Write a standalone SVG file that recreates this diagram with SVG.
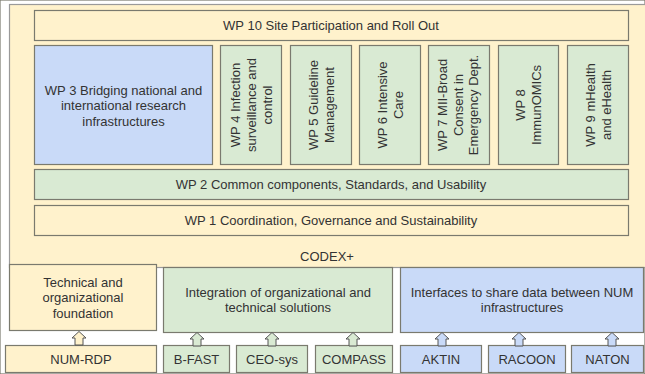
<svg xmlns="http://www.w3.org/2000/svg" xmlns:xlink="http://www.w3.org/1999/xlink" width="645" height="374" viewBox="0 0 645 374">
<style>
text{font-family:"Liberation Sans",Arial,sans-serif;font-size:13px;fill:#333;text-anchor:middle}
.y{fill:#fff2cc}.g{fill:#d9ead3}.b{fill:#c9daf8}
rect{stroke:#7a7a6e;stroke-width:1.2}
.outer{stroke:#9a9a9a;stroke-width:1.2}
.arr{stroke:#555;stroke-width:1}
</style>
<defs>
<path id="up" d="M0,0 L7,6.5 L4,6.5 L4,13.5 L-4,13.5 L-4,6.5 L-7,6.5 Z"/>
</defs>
<rect width="645" height="374" fill="#fff" stroke="none"/>
<g id="codex">
<rect class="y outer" x="9.5" y="4.5" width="640" height="263"/>
<text x="327" y="260.5">CODEX+</text>
</g>
<g id="wp10"><rect class="y" x="34.5" y="10.5" width="594" height="30"/><text x="331" y="29.5">WP 10 Site Participation and Roll Out</text></g>
<g id="wp3"><rect class="b" x="34.5" y="45.5" width="178" height="119"/>
<text x="123.5" y="94.5">WP 3 Bridging national and</text><text x="123.5" y="110">international research</text><text x="123.5" y="125.5">infrastructures</text></g>
<g id="wp4"><rect class="g" x="220.5" y="45.5" width="61" height="119"/>
<text transform="translate(251,105) rotate(-90)"><tspan x="0" y="-11.5">WP 4 Infection</tspan><tspan x="0" y="4.5">surveillance and</tspan><tspan x="0" y="20.5">control</tspan></text></g>
<g id="wp5"><rect class="g" x="290.5" y="45.5" width="61" height="119"/>
<text transform="translate(321,105) rotate(-90)"><tspan x="0" y="-3.5">WP 5 Guideline</tspan><tspan x="0" y="12.5">Management</tspan></text></g>
<g id="wp6"><rect class="g" x="359.5" y="45.5" width="61" height="119"/>
<text transform="translate(390,105) rotate(-90)"><tspan x="0" y="-3.5">WP 6 Intensive</tspan><tspan x="0" y="12.5">Care</tspan></text></g>
<g id="wp7"><rect class="g" x="428.5" y="45.5" width="61" height="119"/>
<text transform="translate(458,105) rotate(-90)"><tspan x="0" y="-11">WP 7 MII-Broad</tspan><tspan x="0" y="4.5">Consent in</tspan><tspan x="0" y="20">Emergency Dept.</tspan></text></g>
<g id="wp8"><rect class="g" x="498.5" y="45.5" width="60" height="119"/>
<text transform="translate(528,105) rotate(-90)"><tspan x="0" y="-3.5">WP 8</tspan><tspan x="0" y="12.5">ImmunOMICs</tspan></text></g>
<g id="wp9"><rect class="g" x="567.5" y="45.5" width="61" height="119"/>
<text transform="translate(598,105) rotate(-90)"><tspan x="0" y="-3.5">WP 9 mHealth</tspan><tspan x="0" y="12.5">and eHealth</tspan></text></g>
<g id="wp2"><rect class="g" x="34.5" y="169.5" width="594" height="30"/><text x="331" y="188.5">WP 2 Common components, Standards, and Usability</text></g>
<g id="wp1"><rect class="y" x="34.5" y="205.5" width="594" height="30"/><text x="331" y="224.5">WP 1 Coordination, Governance and Sustainability</text></g>
<g id="foundation"><rect class="y" x="9.5" y="264.5" width="147" height="66"/>
<text x="83" y="286.5">Technical and</text><text x="83" y="302">organizational</text><text x="83" y="317.5">foundation</text></g>
<g id="integration"><rect class="g" x="163.5" y="267.5" width="229" height="65"/>
<text x="278" y="296.5">Integration of organizational and</text><text x="278" y="312">technical solutions</text></g>
<g id="interfaces"><rect class="b" x="400.5" y="267.5" width="243" height="65"/>
<text x="522" y="296.5">Interfaces to share data between NUM</text><text x="522" y="312">infrastructures</text></g>
<g id="numrdp"><rect class="y" x="5.5" y="345.5" width="151" height="27"/><text x="81" y="363.5">NUM-RDP</text></g>
<g id="bfast"><rect class="g" x="163.5" y="345.5" width="66" height="27"/><text x="196.5" y="363.5">B-FAST</text></g>
<g id="ceosys"><rect class="g" x="236.5" y="345.5" width="71" height="27"/><text x="272" y="363.5">CEO-sys</text></g>
<g id="compass"><rect class="g" x="315.5" y="345.5" width="77" height="27"/><text x="354" y="363.5">COMPASS</text></g>
<g id="aktin"><rect class="b" x="400.5" y="345.5" width="81" height="27"/><text x="441" y="363.5">AKTIN</text></g>
<g id="racoon"><rect class="b" x="488.5" y="345.5" width="77" height="27"/><text x="527" y="363.5">RACOON</text></g>
<g id="naton"><rect class="b" x="571.5" y="345.5" width="72" height="27"/><text x="607.5" y="363.5">NATON</text></g>
<g id="connectors" class="arr">
<use xlink:href="#up" class="y" transform="translate(79,331.5)"/>
<use xlink:href="#up" class="g" transform="translate(197,332.5)"/>
<use xlink:href="#up" class="g" transform="translate(272,332.5)"/>
<use xlink:href="#up" class="g" transform="translate(353,332.5)"/>
<use xlink:href="#up" class="b" transform="translate(442,332.5)"/>
<use xlink:href="#up" class="b" transform="translate(519,332.5)"/>
<use xlink:href="#up" class="b" transform="translate(612,332.5)"/>
</g>
</svg>
